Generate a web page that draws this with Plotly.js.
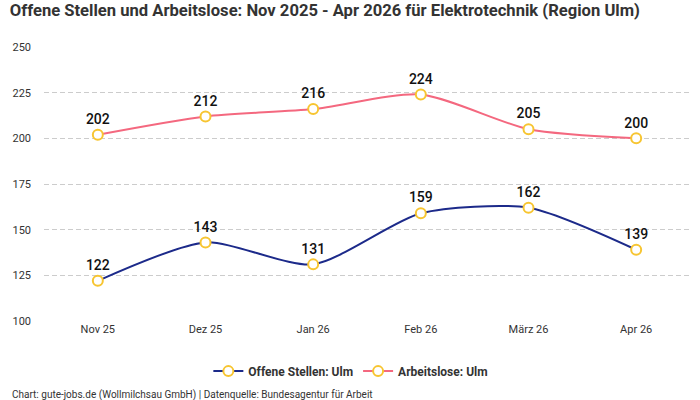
<!DOCTYPE html>
<html>
<head>
<meta charset="utf-8">
<script src="https://cdn.plot.ly/plotly-3.0.1.min.js"></script>
<style>
  html, body { margin: 0; padding: 0; background: #fff; }
  #chart { width: 700px; height: 400px; }
</style>
</head>
<body>
<div id="chart"></div>
<script>
// Monatsachse
const months = ["Nov 25", "Dez 25", "Jan 26", "Feb 26", "März 26", "Apr 26"];
// Offene Stellen und Arbeitslose, Elektrotechnik, Region Ulm
const offeneStellen = [122, 143, 131, 159, 162, 139];
const arbeitslose = [202, 212, 216, 224, 205, 200];
const yTicks = [100, 125, 150, 175, 200, 225, 250];

const markerStyle = { size: 10, color: "#ffffff", line: { color: "#f7c531", width: 2 } };
const labelFont = { family: "Roboto, sans-serif", size: 14, color: "#111111", weight: 500 };

function series(name, values, color) {
  return {
    type: "scatter",
    mode: "lines+markers+text",
    name: name,
    x: months,
    y: values,
    text: values.map(String),
    textposition: "top center",
    textfont: labelFont,
    line: { color: color, width: 2, shape: "spline", smoothing: 0.7 },
    marker: markerStyle,
    cliponaxis: false,
    hoverinfo: "x+y"
  };
}

const data = [
  series("Offene Stellen: Ulm", offeneStellen, "#1c2a8a"),
  series("Arbeitslose: Ulm", arbeitslose, "#f4687f")
];

const layout = {
  width: 700,
  height: 400,
  margin: { l: 44, r: 10, t: 47, b: 79 },
  paper_bgcolor: "#ffffff",
  plot_bgcolor: "#ffffff",
  font: { family: "Roboto, sans-serif", size: 11, color: "#333333" },
  title: {
    text: "Offene Stellen und Arbeitslose: Nov 2025 - Apr 2026 für Elektrotechnik (Region Ulm)",
    font: { family: "Roboto, sans-serif", size: 16.6, color: "#333333", weight: 700 },
    x: 0.014, xanchor: "left", xref: "container",
    y: 0.975, yanchor: "middle", yref: "container"
  },
  xaxis: {
    type: "category",
    range: [-0.5, 5.5],
    showgrid: false,
    zeroline: false,
    showline: false,
    ticks: "",
    tickfont: { size: 11, color: "#333333" }
  },
  yaxis: {
    range: [100, 250],
    tickvals: yTicks,
    showgrid: true,
    gridcolor: "#cccccc",
    griddash: "5px,3px",
    gridwidth: 1,
    zeroline: false,
    showline: false,
    ticks: "",
    ticklabelstandoff: 12,
    tickfont: { size: 11, color: "#333333" }
  },
  showlegend: true,
  legend: {
    orientation: "h",
    x: 0.475, xanchor: "center",
    y: -0.13, yanchor: "top",
    font: { size: 12, color: "#333333", weight: 700 },
    itemwidth: 30
  },
  annotations: [{
    text: "Chart: gute-jobs.de (Wollmilchsau GmbH) | Datenquelle: Bundesagentur für Arbeit",
    xref: "paper", yref: "paper",
    x: -0.052, y: -0.27,
    xanchor: "left", yanchor: "middle",
    showarrow: false,
    font: { size: 10, color: "#333333" }
  }]
};

Plotly.newPlot("chart", data, layout, { displayModeBar: false, staticPlot: true });
</script>
</body>
</html>
